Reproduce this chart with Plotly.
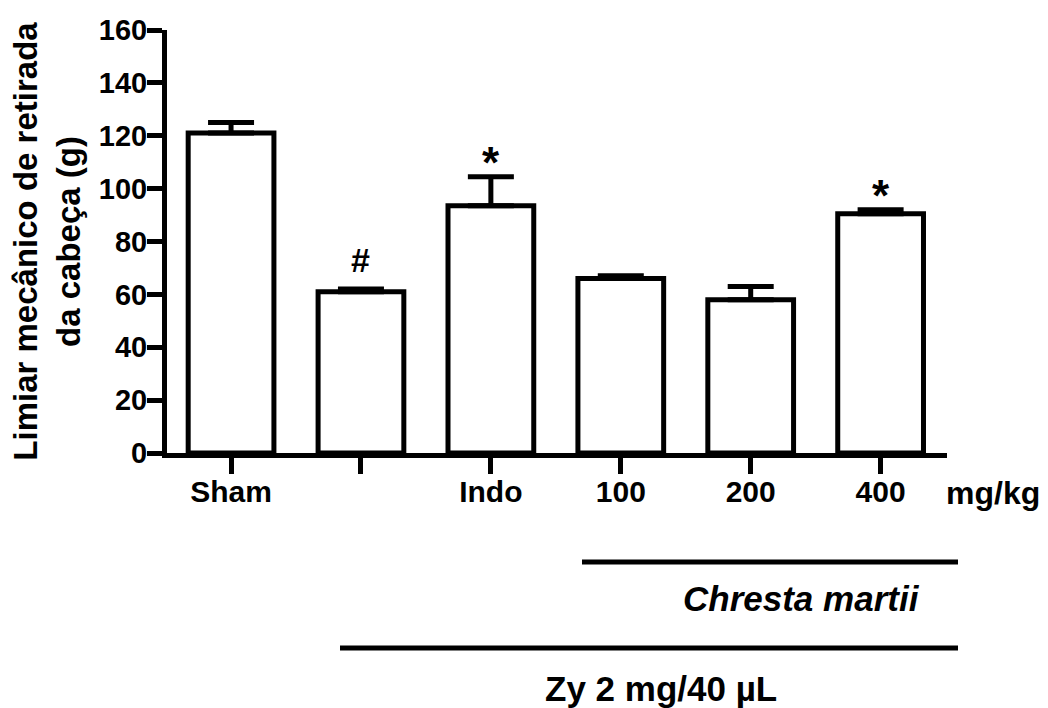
import plotly.graph_objects as go

categories = ["Sham", "", "Indo", "100", "200", "400"]
means = [121, 61, 93.5, 66, 58, 90.5]
sem = [4, 1, 11, 1, 5, 1.5]
marks = ["", "#", "*", "", "", "*"]

FONT = "Liberation Sans, Arial, sans-serif"
xs = list(range(len(categories)))

fig = go.Figure()
fig.add_trace(go.Bar(
    x=xs, y=means, width=0.66,
    marker=dict(color="white", line=dict(color="black", width=5)),
    error_y=dict(type="data", array=sem, arrayminus=[0]*len(sem), symmetric=False,
                 color="black", thickness=5, width=23),
    showlegend=False, hoverinfo="skip",
))

annotations = []
for xi, m, s, e in zip(xs, marks, means, sem):
    if m:
        is_hash = m == "#"
        annotations.append(dict(x=xi, y=s + e, xref="x", yref="y", text="<b>%s</b>" % m,
                                showarrow=False, yanchor="bottom",
                                yshift=8 if is_hash else -12,
                                font=dict(family=FONT, size=34 if is_hash else 44, color="black")))

annotations += [
    dict(x=1.0, xref="paper", xanchor="left", xshift=-3, y=0, yref="paper", yshift=-40,
         yanchor="middle", text="<b>mg/kg</b>", showarrow=False,
         font=dict(family=FONT, size=32, color="black")),
    dict(x=4.39, xref="x", y=0, yref="paper", yshift=-145, yanchor="middle",
         text="<b><i>Chresta martii</i></b>", showarrow=False,
         font=dict(family=FONT, size=35, color="black")),
    dict(x=3.31, xref="x", y=0, yref="paper", yshift=-235, yanchor="middle",
         text="<b>Zy 2 mg/40 µL</b>", showarrow=False,
         font=dict(family=FONT, size=35, color="black")),
]

plot_w = 1048 - 167 - 101
plot_h = 708 - 30 - 255
shapes = [
    dict(type="line", xref="paper", yref="paper",
         x0=(582 - 167) / plot_w, x1=(958 - 167) / plot_w,
         y0=-(562 - 453) / plot_h, y1=-(562 - 453) / plot_h,
         line=dict(color="black", width=5)),
    dict(type="line", xref="paper", yref="paper",
         x0=(340 - 167) / plot_w, x1=(958 - 167) / plot_w,
         y0=-(648 - 453) / plot_h, y1=-(648 - 453) / plot_h,
         line=dict(color="black", width=5)),
]

fig.update_layout(
    width=1048, height=708,
    margin=dict(l=167, r=101, t=30, b=255, autoexpand=False),
    paper_bgcolor="white", plot_bgcolor="white",
    annotations=annotations, shapes=shapes,
    xaxis=dict(range=[-0.493, 5.511], tickmode="array", tickvals=xs, ticktext=categories,
               showline=True, linecolor="black", linewidth=5,
               ticks="outside", ticklen=16, tickwidth=5, tickcolor="black",
               ticklabelstandoff=-8, automargin=False,
               tickfont=dict(family=FONT, size=30, color="black", weight="bold"),
               showgrid=False, zeroline=False, fixedrange=True),
    yaxis=dict(range=[0, 160], dtick=20, tick0=0,
               showline=True, linecolor="black", linewidth=5,
               ticks="outside", ticklen=15, tickwidth=5, tickcolor="black",
               ticklabelstandoff=-6, automargin=False,
               tickfont=dict(family=FONT, size=29, color="black", weight="bold"),
               showgrid=False, zeroline=False, fixedrange=True,
               title=dict(text="Limiar mecânico de retirada<br>da cabeça (g)", standoff=10,
                          font=dict(family=FONT, size=33, color="black", weight="bold"))),
)

fig.write_html("out.html", config={"displayModeBar": False},
               post_script="document.body.style.margin='0';document.body.style.overflow='hidden';")
